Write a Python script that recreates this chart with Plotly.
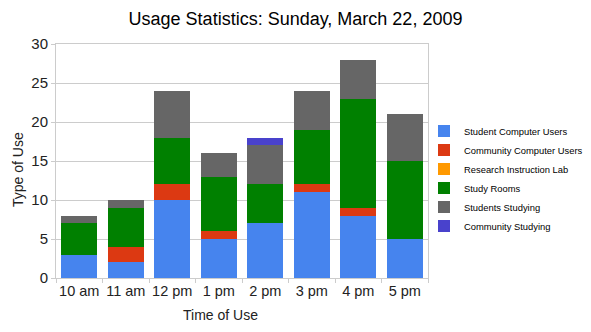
import plotly.graph_objects as go

times = ["10 am", "11 am", "12 pm", "1 pm", "2 pm", "3 pm", "4 pm", "5 pm"]

student_computer = [3, 2, 10, 5, 7, 11, 8, 5]
community_computer = [0, 2, 2, 1, 0, 1, 1, 0]
research_lab = [0, 0, 0, 0, 0, 0, 0, 0]
study_rooms = [4, 5, 6, 7, 5, 7, 14, 10]
students_studying = [1, 1, 6, 3, 5, 5, 5, 6]
community_studying = [0, 0, 0, 0, 1, 0, 0, 0]

series = [
    ("Student Computer Users", student_computer, "#4684ee"),
    ("Community Computer Users", community_computer, "#dc3912"),
    ("Research Instruction Lab", research_lab, "#ff9900"),
    ("Study Rooms", study_rooms, "#008000"),
    ("Students Studying", students_studying, "#666666"),
    ("Community Studying", community_studying, "#4942cc"),
]

fig = go.Figure()
for name, vals, color in series:
    fig.add_trace(go.Bar(
        x=times, y=vals, name=name,
        marker=dict(color=color, line=dict(width=0)),
    ))

font_family = "Liberation Sans, Arial, sans-serif"
W, H = 591, 332
ML, MR, MT, MB = 56, 163, 44, 54
PW, PH = W - ML - MR, H - MT - MB
text_color = "#222222"


def px_to_paper_x(px):
    return (px - ML) / PW


def px_to_paper_y(py):
    return (H - MB - py) / PH


fig.update_layout(
    width=W, height=H,
    barmode="stack",
    bargap=0.23,
    plot_bgcolor="white",
    paper_bgcolor="white",
    font=dict(family=font_family, color=text_color, size=14),
    margin=dict(l=ML, r=MR, t=MT, b=MB, autoexpand=False),
    title=dict(
        text="Usage Statistics: Sunday, March 22, 2009",
        x=0.5, xref="container", xanchor="center",
        y=1 - 19 / H, yref="container", yanchor="middle",
        font=dict(size=18, color="#000000"),
    ),
    xaxis=dict(
        tickson="boundaries",
        tickangle=0,
        automargin=False,
        ticks="outside", ticklen=4, tickcolor="#cccccc",
        showline=True, linecolor="#cccccc", linewidth=1,
        mirror=True,
        tickfont=dict(size=14.5, color=text_color),
    ),
    yaxis=dict(
        range=[0, 30], dtick=5,
        automargin=False,
        gridcolor="#cccccc", gridwidth=1,
        ticks="outside", ticklen=4, tickcolor="#cccccc",
        showline=True, linecolor="#cccccc", linewidth=1,
        mirror=True,
        zeroline=False,
        tickfont=dict(size=15, color=text_color),
    ),
    legend=dict(
        traceorder="normal",
        xref="container", x=424 / W, xanchor="left",
        yref="container", y=1 - 178.5 / H, yanchor="middle",
        font=dict(size=9.4, color="#000000"),
        itemwidth=30,
        bgcolor="rgba(0,0,0,0)",
    ),
    annotations=[
        dict(
            text="Time of Use", showarrow=False,
            xref="paper", x=px_to_paper_x(220), xanchor="center",
            yref="paper", y=px_to_paper_y(315), yanchor="middle",
            font=dict(size=14, color=text_color),
        ),
        dict(
            text="Type of Use", showarrow=False, textangle=-90,
            xref="paper", x=px_to_paper_x(18), xanchor="center",
            yref="paper", y=px_to_paper_y(170), yanchor="middle",
            font=dict(size=14, color=text_color),
        ),
    ],
    showlegend=True,
)

fig.write_html("out.html")
